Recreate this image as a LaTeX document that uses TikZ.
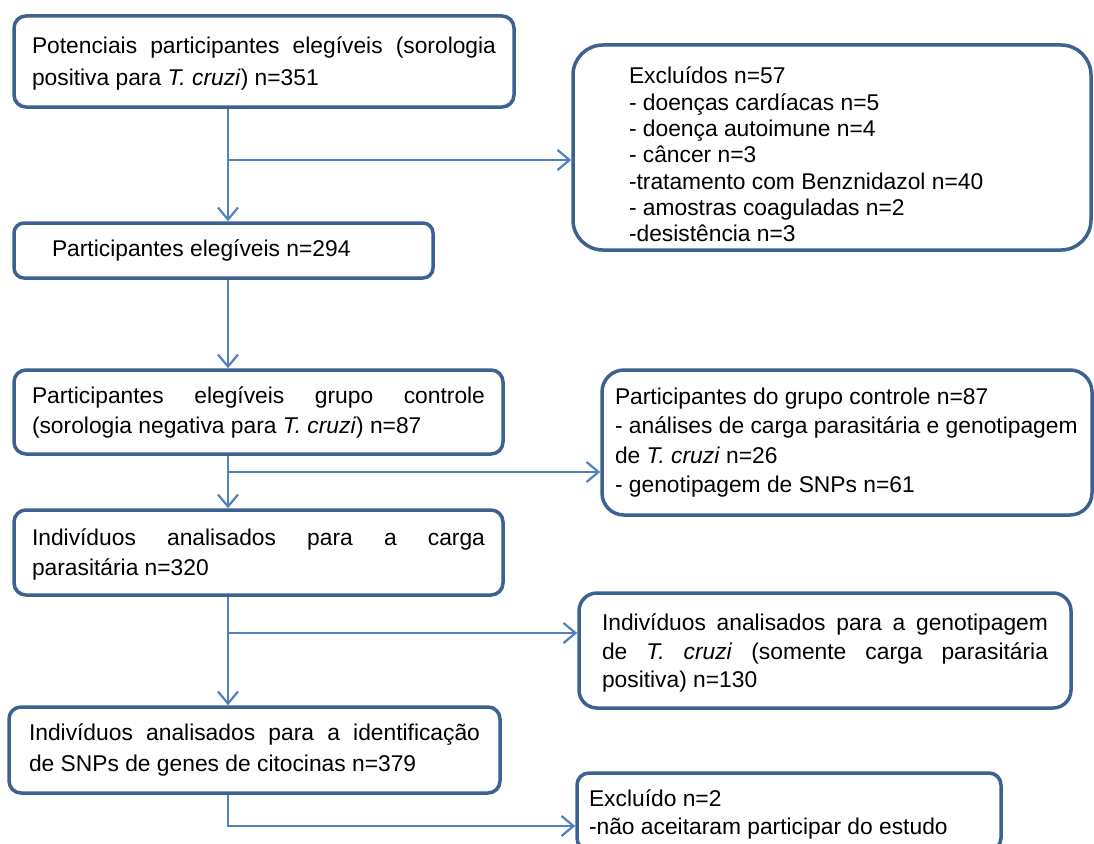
\documentclass[tikz,border=0pt]{standalone}
\usepackage{fontspec}
\setmainfont{Liberation Sans}
\usetikzlibrary{arrows.meta}
\definecolor{boxc}{HTML}{3D6191}
\definecolor{arrc}{HTML}{4F81BD}
\newcommand{\jl}[1]{{\spaceskip=0pt\xspaceskip=0pt\makebox[\hsize][s]{#1}}}
\tikzset{
  box/.style={draw=boxc, line width=3.5pt, rounded corners=12pt, inner ysep=0pt,
    align=flush left, font=\fontsize{22.8}{30}\selectfont, anchor=center, fill=white},
  arr/.style={draw=arrc, line width=2.2pt, -{Straight Barb[length=12pt,width=20pt]}},
  lnk/.style={draw=arrc, line width=2.2pt}
}
\begin{document}
\begin{tikzpicture}[x=1pt,y=-1pt]
\useasboundingbox[fill=white] (0,0) rectangle (1094,843);

% left column
\node[box, minimum width=500pt, minimum height=91pt, text width=464pt, inner xsep=18pt,
  font=\fontsize{22.8}{32}\selectfont]
  (p1) at (264,61.5) {\rule{0pt}{20pt}\jl{Potenciais participantes elegíveis (sorologia}\\positiva para \textit{T. cruzi}) n=351};
\node[box, rounded corners=10pt, minimum width=419pt, minimum height=55pt, text width=343pt, inner xsep=38pt]
  (p2) at (223.5,250.5) {Participantes elegíveis n=294};
\node[box, minimum width=489pt, minimum height=84pt, text width=453pt, inner xsep=18pt]
  (p3) at (258.5,412) {\jl{Participantes elegíveis grupo controle}\\(sorologia negativa para \textit{T. cruzi}) n=87};
\node[box, minimum width=489pt, minimum height=85pt, text width=453pt, inner xsep=18pt]
  (p4) at (258.5,552.5) {\rule{0pt}{20pt}\jl{Indivíduos analisados para a carga}\\parasitária n=320};
\node[box, minimum width=491pt, minimum height=86pt, text width=451pt, inner xsep=20pt,
  font=\fontsize{22.8}{31}\selectfont]
  (p5) at (254.5,750) {\jl{Indivíduos analisados para a identificação}\\de SNPs de genes de citocinas n=379};

% right column
\node[box, rounded corners=30pt, minimum width=518pt, minimum height=205pt, text width=406pt, inner xsep=56pt,
  font=\fontsize{22.8}{26.3}\selectfont]
  (ex) at (832,147.5) {\rule{0pt}{31pt}Excluídos n=57\\- doenças cardíacas n=5\\- doença autoimune n=4\\- câncer n=3\\-tratamento com Benznidazol n=40\\- amostras coaguladas n=2\\-desistência n=3};
\node[box, rounded corners=22pt, minimum width=490pt, minimum height=145pt, text width=464pt, inner xsep=13pt,
  font=\fontsize{22.8}{29.5}\selectfont]
  (ct) at (847,442.5) {Participantes do grupo controle n=87\\\mbox{- análises de carga parasitária e genotipagem}\\de \textit{T. cruzi} n=26\\- genotipagem de SNPs n=61};
\node[box, rounded corners=18pt, minimum width=492pt, minimum height=115pt, text width=446pt, inner xsep=23pt,
  font=\fontsize{22.8}{28.5}\selectfont]
  (ge) at (825,650.5) {\rule{0pt}{22pt}\jl{Indivíduos analisados para a genotipagem}\\\jl{de \textit{T. cruzi} (somente carga parasitária}\\positiva) n=130};
\node[box, rounded corners=12pt, minimum width=424pt, minimum height=77pt, text width=400pt, inner xsep=12pt,
  font=\fontsize{22.8}{28}\selectfont]
  (e2) at (789,811.5) {\rule{0pt}{22pt}Excluído n=2\\-não aceitaram participar do estudo};

% connectors
\coordinate (tx) at (228,0);
\coordinate (b1) at (228,160);
\coordinate (b2) at (228,472);
\coordinate (b3) at (228,633);
\coordinate (b4) at (228,826);

\draw[arr] (p1.south -| tx) -- (p2.north -| tx);
\draw[arr] (b1) -- (b1 -| ex.west);
\draw[arr] (p2.south -| tx) -- (p3.north -| tx);
\draw[arr] (p3.south -| tx) -- (p4.north -| tx);
\draw[arr] (b2) -- (b2 -| ct.west);
\draw[arr] (p4.south -| tx) -- (p5.north -| tx);
\draw[arr] (b3) -- (b3 -| ge.west);
\draw[arr] (p5.south -| tx) -- (b4) -- (b4 -| e2.west);
\end{tikzpicture}
\end{document}
